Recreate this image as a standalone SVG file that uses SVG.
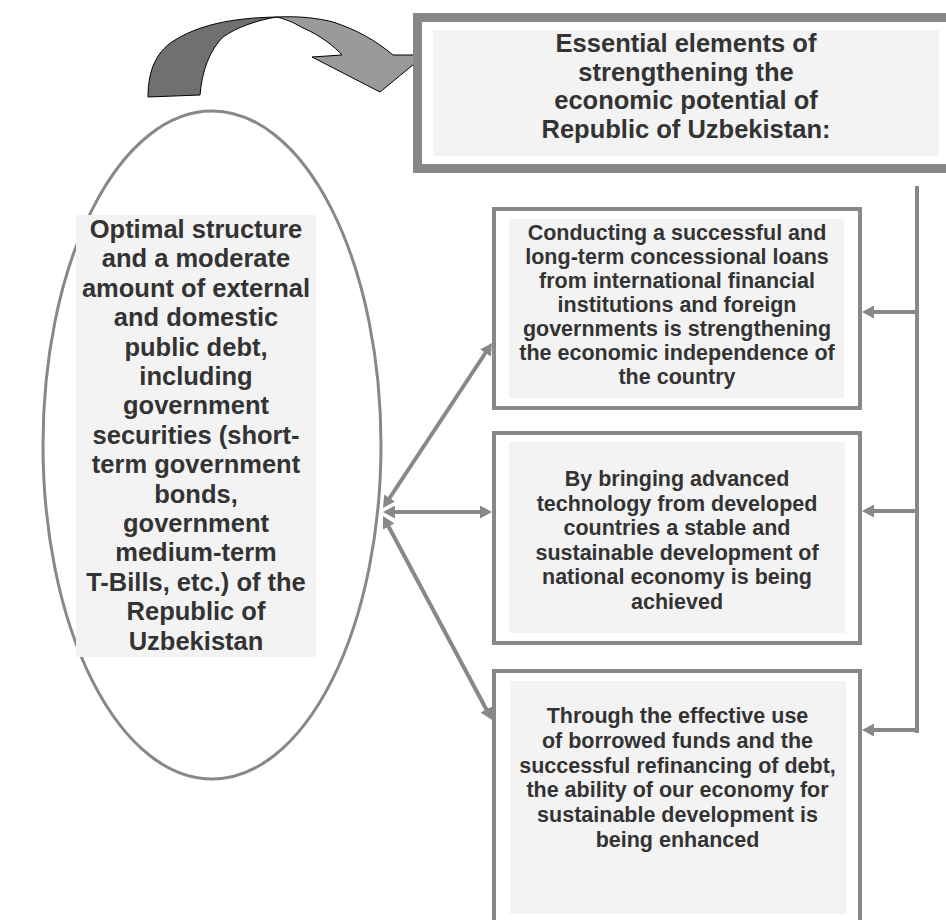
<svg xmlns="http://www.w3.org/2000/svg" width="946" height="920" viewBox="0 0 946 920">
<defs>
<style>
.txt{font-family:"Liberation Sans",Arial,sans-serif;font-weight:bold;fill:#333333;text-anchor:middle}
.t25{font-size:25.5px}
.t21{font-size:21.5px}
.box{fill:#ffffff;stroke:#888888;stroke-width:4}
.inner{fill:#f3f3f3;stroke:none}
.con{stroke:#888888;stroke-width:4;fill:none}
</style>
<marker id="ah" viewBox="0 0 12 13" refX="6" refY="6.5" markerWidth="12" markerHeight="13" markerUnits="userSpaceOnUse" orient="auto-start-reverse">
<path d="M0,0 L12,6.5 L0,13 Z" fill="#888888"/>
</marker>
</defs>
<rect width="946" height="920" fill="#ffffff"/>

<g id="curved-arrow">
<path d="M148,97 C148,68 158,50 175,40 C198,26 228,18 277,17 C258,20 237,27 223,37 C210,50 202,70 200,95 Z" fill="#707070" stroke="#000000" stroke-width="1"/>
<path d="M277,17 C300,16 317,18 333,22 C357,30 375,40 393,55 L425,55 L380,92 L312,57 L342,55 C335,47 320,35 303,28 C293,22 285,19 277,17 Z" fill="#9a9a9a" stroke="#000000" stroke-width="1"/>
</g>

<g id="title">
<rect x="417.5" y="17.5" width="545" height="151" fill="#ffffff" stroke="#888888" stroke-width="9"/>
<rect class="inner" x="433" y="30" width="506" height="126"/>
<text class="txt t25" x="686"><tspan x="686" y="52">Essential elements of</tspan><tspan x="686" y="80.5">strengthening the</tspan><tspan x="686" y="109">economic potential of</tspan><tspan x="686" y="137.5">Republic of Uzbekistan:</tspan></text>
</g>

<g id="ellipse-node">
<ellipse cx="212" cy="445" rx="169" ry="334" fill="#ffffff" stroke="#888888" stroke-width="3"/>
<rect class="inner" x="76" y="215" width="240" height="442"/>
<text class="txt t25"><tspan x="196" y="238">Optimal structure</tspan><tspan x="196" y="267.4">and a moderate</tspan><tspan x="196" y="296.8">amount of external</tspan><tspan x="196" y="326.2">and domestic</tspan><tspan x="196" y="355.6">public debt,</tspan><tspan x="196" y="385">including</tspan><tspan x="196" y="414.4">government</tspan><tspan x="196" y="443.8">securities (short-</tspan><tspan x="196" y="473.2">term government</tspan><tspan x="196" y="502.6">bonds,</tspan><tspan x="196" y="532">government</tspan><tspan x="196" y="561.4">medium-term</tspan><tspan x="196" y="590.8">T-Bills, etc.) of the</tspan><tspan x="196" y="620.2">Republic of</tspan><tspan x="196" y="649.6">Uzbekistan</tspan></text>
</g>

<g id="box1">
<rect class="box" x="494" y="209" width="366" height="199"/>
<rect class="inner" x="509" y="219" width="335" height="179"/>
<text class="txt t21"><tspan x="677" y="240">Conducting a successful and</tspan><tspan x="677" y="264">long-term concessional loans</tspan><tspan x="677" y="288">from international financial</tspan><tspan x="677" y="312">institutions and foreign</tspan><tspan x="677" y="336">governments is strengthening</tspan><tspan x="677" y="360">the economic independence of</tspan><tspan x="677" y="384">the country</tspan></text>
</g>

<g id="box2">
<rect class="box" x="494" y="433" width="366" height="210"/>
<rect class="inner" x="509" y="442" width="336" height="191"/>
<text class="txt t21"><tspan x="677" y="486">By bringing advanced</tspan><tspan x="677" y="510.5">technology from developed</tspan><tspan x="677" y="535">countries a stable and</tspan><tspan x="677" y="559.5">sustainable development of</tspan><tspan x="677" y="584">national economy is being</tspan><tspan x="677" y="608.5">achieved</tspan></text>
</g>

<g id="box3">
<rect class="box" x="494" y="671" width="366" height="262"/>
<rect class="inner" x="510" y="681" width="336" height="233"/>
<text class="txt t21"><tspan x="677.5" y="723">Through the effective use</tspan><tspan x="677.5" y="748">of borrowed funds and the</tspan><tspan x="677.5" y="772.5">successful refinancing of debt,</tspan><tspan x="677.5" y="797">the ability of our economy for</tspan><tspan x="677.5" y="822">sustainable development is</tspan><tspan x="677.5" y="846.5">being enhanced</tspan></text>
</g>

<g id="connectors">
<line class="con" x1="917" y1="186" x2="917" y2="733"/>
<line class="con" x1="917" y1="312" x2="868" y2="312" marker-end="url(#ah)"/>
<line class="con" x1="917" y1="511" x2="868" y2="511" marker-end="url(#ah)"/>
<line class="con" x1="917" y1="730" x2="868" y2="730" marker-end="url(#ah)"/>
<line class="con" x1="386.3" y1="503" x2="488.7" y2="348" marker-start="url(#ah)" marker-end="url(#ah)"/>
<line class="con" x1="389" y1="512" x2="486" y2="512" marker-start="url(#ah)" marker-end="url(#ah)"/>
<line class="con" x1="385.8" y1="521.3" x2="489.2" y2="714.7" marker-start="url(#ah)" marker-end="url(#ah)"/>
</g>
</svg>
